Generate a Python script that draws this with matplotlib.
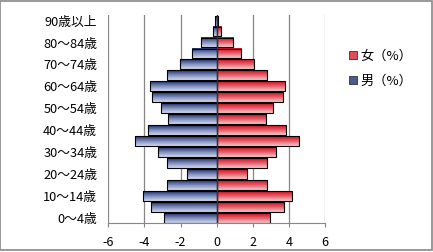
import numpy as np
import matplotlib
matplotlib.use('Agg')
import matplotlib.pyplot as plt
from matplotlib.colors import LinearSegmentedColormap
from matplotlib.patches import Rectangle, Patch

plt.rcParams['font.family'] = ['Noto Sans CJK JP', 'DejaVu Sans']

# 年齢階級（下から上）
ages = ['0～4歳', '5～9歳', '10～14歳', '15～19歳', '20～24歳', '25～29歳',
        '30～34歳', '35～39歳', '40～44歳', '45～49歳', '50～54歳', '55～59歳',
        '60～64歳', '65～69歳', '70～74歳', '75～79歳', '80～84歳', '85～89歳',
        '90歳以上']
male = [2.93, 3.65, 4.09, 2.76, 1.63, 2.76, 3.26, 4.54, 3.81, 2.70,
        3.09, 3.59, 3.70, 2.76, 2.04, 1.39, 0.87, 0.20, 0.10]
female = [2.96, 3.70, 4.14, 2.79, 1.67, 2.79, 3.29, 4.56, 3.81, 2.74,
          3.14, 3.64, 3.75, 2.79, 2.09, 1.37, 0.91, 0.25, 0.08]
xticks = [-6, -4, -2, 0, 2, 4, 6]

cm_male = LinearSegmentedColormap.from_list('m', ['#d3d9ee', '#7f8ebd', '#1e2e68'])
cm_female = LinearSegmentedColormap.from_list('f', ['#f4c9ce', '#e4606c', '#d40d1c'])

fig = plt.figure(figsize=(4.33, 2.52), dpi=100)
ax = fig.add_axes([0.250, 0.114, 0.501, 0.826])

y = np.arange(len(ages))
grad = np.linspace(0, 1, 64).reshape(-1, 1)

def gradient_bars(vals, cmap, label):
    bars = ax.barh(y, vals, height=0.9, color='none', edgecolor='black',
                   linewidth=0.8, zorder=3, label=label)
    for b in bars:
        x0, y0 = b.get_x(), b.get_y()
        w, h = b.get_width(), b.get_height()
        ax.imshow(grad, extent=[x0, x0 + w, y0, y0 + h], origin='lower',
                  cmap=cmap, aspect='auto', zorder=2, interpolation='bilinear')
    return bars

gradient_bars(-np.array(male), cm_male, '男（%）')
gradient_bars(np.array(female), cm_female, '女（%）')

ax.set_xlim(-6, 6)
ax.set_ylim(-0.5, len(ages) - 0.5)
ax.set_xticks(xticks)
ax.set_xticklabels([str(t) for t in xticks], fontsize=9)
ax.set_yticks(y[::2])
ax.set_yticklabels(ages[::2], fontsize=9.2)
ax.tick_params(axis='y', length=0, pad=8)
ax.tick_params(axis='x', length=3, color='#868686', pad=6)

for t in xticks:
    if t != 0:
        ax.axvline(t, color='#868686', linewidth=0.9, zorder=1)
ax.axvline(0, color='#333333', linewidth=1.0, zorder=4)

for s in ['top', 'right', 'left']:
    ax.spines[s].set_visible(False)
ax.spines['bottom'].set_color('#868686')

handles = [Patch(facecolor='#d9505c', edgecolor='#333333', linewidth=0.6),
           Patch(facecolor='#4a5a90', edgecolor='#333333', linewidth=0.6)]
fig.legend(handles, ['女（%）', '男（%）'], loc='upper left',
           bbox_to_anchor=(0.778, 0.85), frameon=False, fontsize=9.5,
           handlelength=0.6, handleheight=0.6, handletextpad=0.3,
           labelspacing=0.9)

fig.patches.append(Rectangle((0.001, 0.006), 0.997, 0.992, transform=fig.transFigure,
                             fill=False, edgecolor='#888888', linewidth=1.2))

fig.savefig('out.png', dpi=100)
